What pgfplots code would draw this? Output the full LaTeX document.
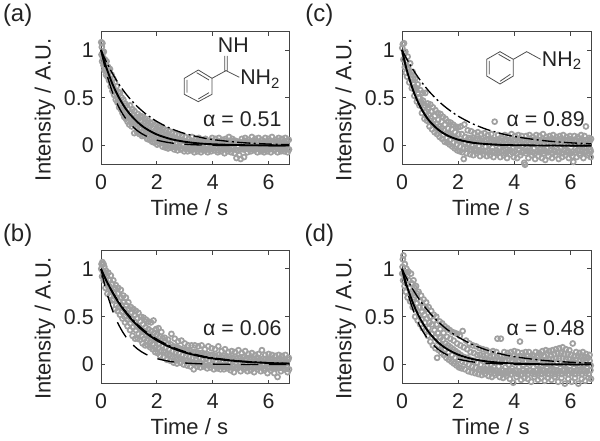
\documentclass[border=0pt]{standalone}
\usepackage{fontspec}
\setmainfont{Liberation Sans}
\usepackage{pgfplots}
\pgfplotsset{compat=1.18}
\definecolor{dots}{RGB}{160,160,160}
\definecolor{ink}{RGB}{35,35,35}
\pgfplotsset{panel/.style={
  scale only axis, width=141pt, height=99.75pt,
  xmin=0, xmax=6.73, ymin=-0.2, ymax=1.19,
  xtick={0,2,4,6}, ytick={0,0.5,1},
  tick align=inside, major tick length=3pt,
  xtick pos=both, ytick pos=both,
  axis line style={draw=ink!85,line width=0.7pt},
  tick style={draw=ink!85,line width=0.6pt},
  clip=false, clip marker paths=true, clip mode=individual,
  /pgf/number format/assume math mode=true,
  tick label style={font=\fontsize{16}{18}\selectfont,text=ink},
  xticklabel style={yshift=-4pt},
  yticklabel style={xshift=-2pt},
  xlabel={Time / s}, ylabel={Intensity / A.U.},
  every axis x label/.style={at={(axis description cs:0.47,-0.326)},anchor=center,font=\fontsize{16.5}{18}\selectfont,text=ink},
  every axis y label/.style={at={(axis description cs:-0.298,0.415)},anchor=center,rotate=90,font=\fontsize{16.5}{18}\selectfont,text=ink},
},
scat/.style={only marks,mark=o,mark size=1.85pt,mark options={draw=dots,line width=1.3pt,solid}},
mainline/.style={draw=black,solid,line width=1.4pt,smooth,mark=none},
upperline/.style={draw=black,line width=1pt,smooth,mark=none,dash pattern=on 10pt off 2.5pt on 1.5pt off 2.5pt},
lowerline/.style={draw=black,line width=1pt,smooth,mark=none,dash pattern=on 13pt off 8pt},
}
\begin{document}
\begin{tikzpicture}
\useasboundingbox (0,0) rectangle (450pt,330.75pt);
% ---------------- (a)
\begin{axis}[panel,at={(75.75pt,207.2pt)},anchor=south west]
\addplot[scat] coordinates {
(.01,1.08)(.02,.95)(.03,1.03)(.04,.88)(.05,1.07)(.07,.92)(.09,.84)(.1,.98)(.12,.79)(.14,.9)(.16,.85)(.18,.74)(.2,.88)(.23,.72)(.26,.82)(.29,.68)(.32,.8)(.35,.62)(.38,.74)(.41,.57)(.44,.7)(.47,.53)(.5,.66)(.53,.48)(.56,.62)(.59,.45)(.62,.56)(.65,.4)(.68,.55)(.71,.38)(.74,.5)(.77,.34)(.8,.48)(.83,.3)(.86,.44)(.89,.28)(.92,.42)(.95,.25)(.98,.38)(1.01,.22)(1.04,.42)(1.07,.3)(1.1,.2)(1.13,.38)(1.16,.27)(1.19,.13)
(1.2,.36)(1.23,.2)(1.26,.3)(1.29,.14)(1.32,.33)(1.35,.22)(1.38,.12)(1.41,.31)(1.44,.18)(1.47,.1)(1.5,.3)(1.53,.2)(1.56,.1)(1.59,.28)(1.62,.15)(1.65,.07)(1.68,.26)(1.71,.16)(1.74,.06)(1.77,.24)(1.8,.12)(1.83,.04)(1.86,.24)(1.89,.14)(1.92,.03)(1.95,.22)(1.98,.1)(2.01,.01)(2.04,.2)(2.07,.1)(2.1,.02)(2.13,.19)(2.16,.08)(2.2,-.01)(2.23,.18)(2.26,.07)(2.3,-.02)(2.33,.16)(2.37,.06)(2.4,-.03)(2.44,.15)(2.47,.05)(2.5,-.02)(2.54,.13)(2.58,.04)(2.62,-.04)(2.66,.12)(2.7,.02)(2.74,-.05)(2.78,.11)(2.82,.03)(2.86,-.04)(2.9,.1)(2.94,.01)(2.98,-.06)
(3.02,.09)(3.06,-.01)(3.1,-.06)(3.14,.07)(3.18,.01)(3.22,-.05)(3.26,.09)(3.3,.02)(3.34,-.07)(3.38,.06)(3.42,-.02)(3.46,-.06)(3.5,.08)(3.54,.01)(3.58,-.07)(3.62,.06)(3.66,-.02)(3.7,-.05)(3.74,.07)(3.78,.0)(3.82,-.07)(3.86,.05)(3.9,-.03)(3.94,-.06)(3.98,.08)(4.02,.01)(4.06,-.05)(4.1,.07)(4.14,-.01)(4.18,-.07)(4.22,.08)(4.26,.02)(4.3,-.06)(4.34,.06)(4.38,-.03)(4.42,-.08)(4.46,.07)(4.5,.0)(4.54,-.06)(4.58,.09)(4.62,.02)(4.66,-.07)(4.7,.07)(4.74,-.02)(4.78,-.08)(4.82,.05)(4.85,-.13)(4.9,.0)(4.95,-.1)(5,-.14)(5.04,.07)(5.08,-.03)(5.12,-.12)(5.16,.08)(5.2,.01)(5.24,-.07)(5.28,.06)(5.32,-.02)(5.36,-.06)(5.4,.09)(5.44,.02)(5.48,-.05)(5.52,.07)(5.56,-.03)(5.6,-.07)(5.64,.08)(5.68,.0)(5.72,-.06)(5.76,.06)(5.8,-.02)(5.84,-.07)(5.88,.08)(5.92,.01)(5.96,-.06)(6,.07)(6.04,-.03)(6.08,-.07)(6.12,.09)(6.16,.02)(6.2,-.05)(6.24,.06)(6.28,-.02)(6.32,-.07)(6.36,.08)(6.4,.0)(6.44,-.06)(6.48,.07)(6.52,-.03)(6.56,-.06)(6.6,.08)(6.64,.01)(6.68,-.07)(6.72,.06)(6.73,-.04)
(.06,.97)(.11,.86)(.17,.8)(.22,.78)(.27,.76)(.33,.7)(.38,.66)(.44,.61)(.5,.57)(.55,.54)(.6,.5)(.66,.47)(.72,.44)(.78,.4)(.84,.37)(.9,.35)(.96,.31)(1.02,.3)(1.08,.25)(1.14,.32)(1.2,.25)
(1.25,.26)(1.3,.19)(1.35,.28)(1.4,.17)(1.45,.25)(1.5,.15)(1.55,.24)(1.6,.13)(1.65,.22)(1.7,.11)(1.75,.2)(1.8,.08)(1.85,.18)(1.9,.08)(1.95,.16)(2,.05)(2.05,.15)(2.1,.05)(2.15,.13)(2.2,.03)(2.25,.12)(2.3,.03)(2.35,.11)(2.4,.01)(2.45,.1)(2.5,.01)(2.55,.08)(2.6,-.01)(2.65,.08)(2.7,-.02)(2.75,.07)(2.8,-.01)(2.85,.06)(2.9,-.03)(2.95,.05)(3,-.03)
(3.05,.04)(3.1,-.03)(3.15,.04)(3.2,-.03)(3.25,.05)(3.3,-.04)(3.35,.03)(3.4,-.04)(3.45,.04)(3.5,-.03)(3.55,.05)(3.6,-.04)(3.65,.03)(3.7,-.03)(3.75,.04)(3.8,-.04)(3.85,.03)(3.9,-.04)(3.95,.05)(4,-.03)(4.05,.04)(4.1,-.03)(4.15,.04)(4.2,-.05)(4.25,.04)(4.3,-.03)(4.35,.03)(4.4,-.04)(4.45,.05)(4.5,-.03)(4.55,.04)(4.6,-.04)(4.65,.04)(4.7,-.03)(4.75,.05)(4.8,-.04)(4.85,.03)(4.9,-.05)(4.95,.04)(5,-.04)(5.05,.03)(5.1,-.04)(5.15,.05)(5.2,-.03)(5.25,.04)(5.3,-.04)(5.35,.03)(5.4,-.03)(5.45,.05)(5.5,-.04)(5.55,.04)(5.6,-.03)(5.65,.04)(5.7,-.04)(5.75,.03)(5.8,-.05)(5.85,.04)(5.9,-.03)(5.95,.04)(6,-.04)(6.05,.05)(6.1,-.03)(6.15,.03)(6.2,-.04)(6.25,.04)(6.3,-.03)(6.35,.05)(6.4,-.04)(6.45,.03)(6.5,-.04)(6.55,.04)(6.6,-.03)(6.65,.05)(6.7,-.04)};
\addplot[lowerline] coordinates {(0,1)(.1,.867)(.2,.751)(.4,.565)(.6,.424)(.8,.319)(1,.24)(1.3,.156)(1.6,.102)(2,.057)(2.5,.028)(3,.014)(3.5,.007)(4,.003)(5,.001)(6,0)(6.73,0)};
\addplot[upperline] coordinates {(0,1)(.1,.933)(.2,.871)(.4,.759)(.6,.661)(.8,.576)(1,.502)(1.3,.408)(1.6,.332)(2,.252)(2.5,.178)(3,.126)(3.5,.09)(4,.063)(5,.032)(6,.016)(6.73,.01)};
\addplot[mainline] coordinates {(0,1)(.1,.898)(.2,.807)(.4,.65)(.6,.525)(.8,.423)(1,.341)(1.3,.247)(1.6,.179)(2,.116)(2.5,.068)(3,.04)(3.5,.023)(4,.014)(5,.005)(6,.002)(6.73,.001)};
\end{axis}
% ---------------- (c)
\begin{axis}[panel,at={(301.5pt,207.2pt)},anchor=south west,width=141.75pt]
\addplot[scat] coordinates {
(.01,1.02)(.03,1.06)(.05,.9)(.07,1.07)(.09,.96)(.1,.82)(.12,.98)(.14,.76)(.16,.88)(.18,.72)(.2,.93)(.23,.8)(.26,.66)(.29,.86)(.32,.7)(.35,.6)(.38,.77)(.41,.64)(.44,.52)(.47,.7)(.5,.58)(.53,.46)(.56,.64)(.59,.5)(.62,.42)(.65,.58)(.68,.46)(.71,.34)(.74,.55)(.77,.4)(.8,.28)(.83,.55)(.86,.36)(.89,.26)(.92,.44)(.95,.32)(.98,.2)(1.01,.43)(1.04,.28)(1.07,.17)(1.1,.4)(1.13,.26)(1.16,.14)(1.19,.37)(1.22,.23)(1.25,.12)(1.28,.34)(1.31,.2)(1.34,.09)(1.37,.33)(1.4,.18)(1.43,.07)(1.46,.3)(1.49,.16)(1.52,.04)(1.55,.28)(1.58,.13)(1.61,.03)(1.64,.25)(1.67,.12)(1.7,.01)(1.73,.24)(1.76,.1)(1.79,-.01)(1.82,.22)(1.85,.09)(1.88,-.03)(1.91,.2)(1.94,.07)(1.97,-.05)(2,.19)(2.03,.05)(2.06,-.06)(2.09,.2)(2.12,.05)(2.15,-.07)(2.2,-.14)(2.22,.22)(2.26,.03)(2.3,-.08)(2.34,.16)(2.38,.02)(2.42,-.09)(2.46,.15)(2.5,.01)(2.54,-.1)(2.58,.13)(2.62,.02)(2.66,-.08)(2.7,.14)(2.74,.0)(2.78,-.11)(2.82,.12)(2.86,.02)(2.9,-.09)(2.94,.13)(2.98,-.01)(3.02,-.11)(3.06,.11)(3.1,.01)(3.14,-.1)(3.18,.12)(3.22,-.02)(3.26,-.12)(3.3,.25)(3.34,.03)(3.38,-.08)(3.42,.11)(3.46,-.03)(3.5,-.12)(3.54,.09)(3.58,.01)(3.62,-.1)(3.66,.11)(3.7,-.04)(3.74,-.13)(3.78,.1)(3.82,.0)(3.86,-.09)(3.9,.12)(3.94,-.03)(3.98,-.12)(4.02,.1)(4.06,.01)(4.1,-.13)(4.14,.11)(4.18,-.04)(4.22,-.1)(4.26,.1)(4.3,.0)(4.35,-.18)(4.38,-.2)(4.42,.1)(4.46,-.05)(4.5,-.13)(4.54,.11)(4.58,.02)(4.62,-.1)(4.66,.09)(4.7,-.03)(4.74,-.14)(4.78,.11)(4.82,.0)(4.86,-.11)(4.9,.1)(4.94,-.04)(4.98,-.13)(5.02,.12)(5.06,.01)(5.1,-.15)(5.14,.09)(5.18,-.03)(5.22,-.11)(5.26,.1)(5.3,.0)(5.34,-.13)(5.38,.11)(5.42,-.05)(5.46,-.1)(5.5,.09)(5.54,.01)(5.58,-.14)(5.62,.1)(5.66,-.03)(5.7,-.12)(5.74,.11)(5.78,.0)(5.82,-.1)(5.86,.09)(5.9,-.05)(5.94,-.13)(5.98,.1)(6.02,.02)(6.06,-.11)(6.1,-.17)(6.14,.1)(6.18,-.03)(6.22,-.12)(6.26,.09)(6.3,.0)(6.34,-.1)(6.38,.11)(6.42,-.04)(6.46,-.13)(6.5,.1)(6.55,.2)(6.58,.01)(6.62,-.1)(6.66,.08)(6.7,-.04)(6.72,-.12)(6.73,.07)
(.15,.84)(.21,.82)(.27,.76)(.33,.74)(.39,.7)(.45,.61)(.51,.6)(.57,.55)(.63,.5)(.69,.44)(.75,.47)(.81,.42)(.87,.31)(.93,.38)(.99,.26)(1.05,.36)(1.11,.22)(1.17,.31)(1.23,.18)(1.29,.27)(1.35,.15)(1.41,.25)(1.47,.11)(1.53,.22)(1.59,.08)(1.65,.18)(1.71,.06)(1.77,.17)(1.83,.03)(1.89,.14)(1.95,.01)(2.01,.12)(2.07,-.01)(2.13,.12)(2.19,-.03)(2.25,.09)(2.31,-.03)(2.37,.08)
(2.41,-.04)(2.45,.07)(2.49,-.05)(2.53,.08)(2.57,-.04)(2.61,.06)(2.65,-.05)(2.69,.07)(2.73,-.06)(2.77,.06)(2.81,-.05)(2.85,.07)(2.89,-.06)(2.93,.05)(2.97,-.06)(3.01,.06)(3.05,-.05)(3.09,.07)(3.13,-.07)(3.17,.05)(3.21,-.06)(3.25,.06)(3.29,-.07)(3.33,.05)(3.37,-.05)(3.41,.06)(3.45,-.07)(3.49,.05)(3.53,-.06)(3.57,.07)(3.61,-.05)(3.65,.05)(3.69,-.08)(3.73,.06)(3.77,-.06)(3.81,.05)(3.85,-.05)(3.89,.07)(3.93,-.07)(3.97,.05)(4.01,-.06)(4.05,.06)(4.09,-.08)(4.13,.05)(4.17,-.05)(4.21,.07)(4.25,-.07)(4.29,.05)(4.33,-.06)(4.37,.06)(4.41,-.08)(4.45,.05)(4.49,-.06)(4.53,.07)(4.57,-.05)(4.61,.05)(4.65,-.07)(4.69,.06)(4.73,-.08)(4.77,.05)(4.81,-.06)(4.85,.06)(4.89,-.07)(4.93,.05)(4.97,-.06)(5.01,.07)(5.05,-.08)(5.09,.05)(5.13,-.06)(5.17,.06)(5.21,-.07)(5.25,.05)(5.29,-.05)(5.33,.07)(5.37,-.08)(5.41,.05)(5.45,-.06)(5.49,.06)(5.53,-.07)(5.57,.05)(5.61,-.06)(5.65,.07)(5.69,-.08)(5.73,.05)(5.77,-.05)(5.81,.06)(5.85,-.07)(5.89,.05)(5.93,-.06)(5.97,.07)(6.01,-.08)(6.05,.05)(6.09,-.06)(6.13,.06)(6.17,-.07)(6.21,.05)(6.25,-.05)(6.29,.07)(6.33,-.08)(6.37,.05)(6.41,-.06)(6.45,.06)(6.49,-.07)(6.53,.05)(6.57,-.06)(6.61,.06)(6.65,-.08)(6.69,.05)(6.72,-.06)};
\addplot[lowerline] coordinates {(0,1)(.1,.87)(.2,.757)(.4,.574)(.6,.435)(.8,.329)(1,.249)(1.3,.164)(1.6,.108)(2,.062)(2.5,.031)(3,.016)(3.5,.008)(4,.004)(5,.001)(6,0)(6.73,0)};
\addplot[upperline] coordinates {(0,1)(.1,.943)(.2,.889)(.4,.79)(.6,.703)(.8,.625)(1,.555)(1.3,.465)(1.6,.39)(2,.308)(2.5,.23)(3,.171)(3.5,.128)(4,.095)(5,.053)(6,.029)(6.73,.019)};
\addplot[mainline] coordinates {(0,1)(.1,.87)(.2,.757)(.4,.574)(.6,.435)(.8,.329)(1,.249)(1.3,.164)(1.6,.108)(2,.062)(2.5,.031)(3,.016)(3.5,.008)(4,.004)(5,.001)(6,0)(6.73,0)};
\end{axis}
% ---------------- (b)
\begin{axis}[panel,at={(75.75pt,43pt)},anchor=south west]
\addplot[scat] coordinates {
(.01,1.0)(.02,1.05)(.04,.92)(.05,1.07)(.07,.97)(.09,1.05)(.1,.88)(.12,1.02)(.14,.9)(.16,.8)(.18,.98)(.2,.86)(.23,.74)(.26,.96)(.29,.82)(.32,.72)(.35,.93)(.38,.78)(.41,.67)(.44,.88)(.47,.74)(.5,.58)(.53,.83)(.56,.7)(.59,.56)(.62,.8)(.65,.66)(.68,.52)(.71,.78)(.74,.62)(.77,.48)(.8,.72)(.83,.58)(.86,.44)(.89,.7)(.92,.54)(.95,.4)(.98,.65)(1.01,.5)(1.04,.36)(1.07,.6)(1.1,.47)(1.13,.3)(1.16,.58)(1.19,.45)(1.22,.27)(1.25,.56)(1.28,.4)(1.31,.27)(1.34,.54)(1.37,.38)(1.4,.26)(1.43,.5)(1.46,.36)(1.49,.22)(1.52,.49)(1.55,.34)(1.58,.2)(1.61,.47)(1.64,.3)(1.67,.2)(1.7,.45)(1.73,.3)(1.76,.18)(1.79,.44)(1.82,.27)(1.85,.16)(1.88,.46)(1.91,.26)(1.94,.13)(1.97,.37)(2,.25)(2.03,.12)(2.06,.38)(2.09,.22)(2.12,.09)(2.16,.34)(2.2,.2)(2.24,.08)(2.28,.28)(2.32,.18)(2.36,.05)(2.4,.26)(2.44,.16)(2.48,.04)(2.52,.32)(2.56,.14)(2.6,.02)(2.64,.27)(2.68,.13)(2.72,.01)(2.76,.24)(2.8,.12)(2.84,.02)(2.88,.25)(2.92,.1)(2.96,.0)(3,.22)(3.04,.09)(3.08,-.01)(3.12,.2)(3.16,.08)(3.2,-.02)(3.24,.2)(3.28,.07)(3.32,-.05)(3.36,.2)(3.4,.06)(3.44,-.02)(3.48,.19)(3.52,.07)(3.56,-.03)(3.6,.2)(3.64,.05)(3.68,-.02)(3.72,.16)(3.76,.06)(3.8,-.04)(3.84,.19)(3.88,.04)(3.92,-.03)(3.96,.17)(4,.05)(4.04,-.05)(4.08,.16)(4.12,.03)(4.16,-.04)(4.2,.19)(4.24,.05)(4.28,-.05)(4.32,.14)(4.36,.03)(4.4,-.05)(4.44,.16)(4.48,.04)(4.52,-.04)(4.56,.13)(4.6,.02)(4.64,-.06)(4.68,.14)(4.72,.03)(4.76,-.08)(4.8,.13)(4.84,.01)(4.88,-.04)(4.92,.15)(4.96,.02)(5,-.07)(5.04,.12)(5.08,.03)(5.12,-.05)(5.16,.14)(5.2,.01)(5.24,-.07)(5.28,.11)(5.32,.02)(5.36,-.06)(5.4,.12)(5.44,.03)(5.48,-.08)(5.52,.1)(5.56,.01)(5.6,-.05)(5.64,.11)(5.68,.02)(5.72,-.07)(5.76,.15)(5.8,.0)(5.84,-.06)(5.88,.1)(5.92,.02)(5.96,-.09)(6,.11)(6.04,.01)(6.08,-.06)(6.12,.1)(6.16,.03)(6.2,-.09)(6.24,.09)(6.28,.0)(6.32,-.13)(6.36,.1)(6.4,.02)(6.44,-.07)(6.48,.09)(6.52,.0)(6.56,-.05)(6.6,.1)(6.64,.03)(6.68,-.08)(6.72,.07)(6.73,-.05)
(.15,.95)(.21,.92)(.25,.82)(.31,.88)(.36,.76)(.4,.84)(.46,.68)(.5,.8)(.55,.62)(.6,.74)(.64,.6)(.7,.7)(.75,.55)(.8,.65)(.85,.5)(.9,.62)(.95,.47)(1,.58)(1.05,.43)(1.1,.54)(1.15,.39)(1.2,.52)(1.25,.36)(1.3,.48)(1.35,.32)(1.4,.45)(1.45,.3)(1.5,.42)(1.55,.27)(1.6,.39)(1.65,.25)(1.7,.37)(1.75,.23)(1.8,.35)(1.85,.21)(1.9,.33)(1.95,.18)(2,.31)(2.05,.17)(2.1,.29)(2.15,.14)(2.2,.27)(2.25,.13)(2.3,.25)(2.35,.11)(2.4,.21)(2.45,.1)(2.5,.21)(2.55,.08)(2.6,.19)(2.65,.07)(2.7,.18)(2.75,.06)(2.8,.17)(2.85,.06)(2.9,.16)(2.95,.04)(3,.15)(3.05,.04)(3.1,.14)(3.15,.03)(3.2,.14)(3.25,.02)(3.3,.13)(3.35,.02)(3.4,.13)(3.45,.01)(3.5,.12)(3.55,.02)(3.6,.12)(3.65,.0)(3.7,.11)(3.75,.01)(3.8,.11)(3.85,-.01)(3.9,.1)(3.95,.0)(4,.1)(4.05,-.01)(4.1,.09)(4.15,-.01)(4.2,.1)(4.25,-.02)(4.3,.08)(4.35,-.01)(4.4,.09)(4.45,-.02)(4.5,.08)(4.55,-.02)(4.6,.08)(4.65,-.03)(4.7,.07)(4.75,-.02)(4.8,.08)(4.85,-.03)(4.9,.07)(4.95,-.03)(5,.07)(5.05,-.02)(5.1,.08)(5.15,-.03)(5.2,.06)(5.25,-.03)(5.3,.07)(5.35,-.02)(5.4,.06)(5.45,-.04)(5.5,.06)(5.55,-.03)(5.6,.07)(5.65,-.03)(5.7,.05)(5.75,-.03)(5.8,.06)(5.85,-.04)(5.9,.06)(5.95,-.03)(6,.05)(6.05,-.03)(6.1,.06)(6.15,-.04)(6.2,.05)(6.25,-.03)(6.3,.05)(6.35,-.04)(6.4,.06)(6.45,-.03)(6.5,.05)(6.55,-.04)(6.6,.05)(6.65,-.03)(6.7,.05)};
\addplot[lowerline] coordinates {(0,1)(.1,.87)(.2,.757)(.4,.574)(.6,.435)(.8,.329)(1,.249)(1.3,.164)(1.6,.108)(2,.062)(2.5,.031)(3,.016)(3.5,.008)(4,.004)(5,.001)(6,0)(6.73,0)};
\addplot[upperline] coordinates {(0,1)(.1,.936)(.2,.875)(.4,.766)(.6,.67)(.8,.587)(1,.513)(1.3,.42)(1.6,.344)(2,.264)(2.5,.189)(3,.135)(3.5,.097)(4,.069)(5,.036)(6,.018)(6.73,.011)};
\addplot[mainline] coordinates {(0,1)(.1,.933)(.2,.871)(.4,.759)(.6,.661)(.8,.576)(1,.502)(1.3,.408)(1.6,.332)(2,.252)(2.5,.178)(3,.126)(3.5,.09)(4,.063)(5,.032)(6,.016)(6.73,.01)};
\end{axis}
% ---------------- (d)
\begin{axis}[panel,at={(301.5pt,43pt)},anchor=south west,width=141.75pt]
\addplot[scat] coordinates {
(.01,.95)(.02,1.02)(.03,1.1)(.04,.88)(.05,1.14)(.07,.95)(.09,.82)(.1,1.05)(.12,.9)(.14,.76)(.16,1.0)(.18,.84)(.2,.7)(.23,.97)(.26,.8)(.29,.66)(.32,.95)(.35,.76)(.38,.6)(.41,.88)(.44,.7)(.47,.5)(.5,.82)(.53,.64)(.56,.46)(.59,.76)(.62,.6)(.65,.42)(.68,.72)(.71,.55)(.74,.38)(.77,.68)(.8,.52)(.83,.36)(.86,.65)(.89,.48)(.92,.3)(.95,.6)(.98,.44)(1.01,.24)(1.04,.56)(1.07,.42)(1.1,.2)(1.13,.52)(1.16,.36)(1.19,.17)(1.22,.5)(1.25,.07)(1.28,.33)(1.31,.15)(1.34,.45)(1.37,.28)(1.4,.12)(1.43,.43)(1.46,.26)(1.49,.1)(1.52,.4)(1.55,.22)(1.58,.07)(1.61,.38)(1.64,.2)(1.67,.05)(1.7,.36)(1.73,.18)(1.76,.03)(1.79,.34)(1.82,.16)(1.85,.01)(1.88,.33)(1.91,.14)(1.94,-.01)(1.97,.32)(2,.12)(2.03,-.03)(2.06,.3)(2.09,.1)(2.12,-.04)(2.16,.35)(2.2,.08)(2.24,-.05)(2.28,.25)(2.32,.07)(2.36,-.07)(2.4,.22)(2.44,.05)(2.48,-.08)(2.52,.2)(2.56,.04)(2.6,-.09)(2.64,.19)(2.68,.02)(2.72,-.1)(2.76,.17)(2.8,.0)(2.84,-.11)(2.88,.16)(2.92,.03)(2.96,-.1)(3,.15)(3.04,-.02)(3.08,-.12)(3.12,.13)(3.16,.0)(3.2,-.13)(3.24,.14)(3.28,-.03)(3.32,-.11)(3.36,.13)(3.4,.27)(3.44,-.02)(3.48,-.13)(3.52,.27)(3.56,.03)(3.6,-.14)(3.64,.13)(3.68,-.03)(3.72,-.12)(3.76,.12)(3.8,.0)(3.84,-.15)(3.88,.13)(3.92,-.04)(3.96,-.19)(4,.14)(4.04,.02)(4.08,-.13)(4.12,.13)(4.16,-.03)(4.2,.24)(4.24,-.16)(4.28,.12)(4.32,.0)(4.36,-.14)(4.4,.13)(4.44,-.04)(4.48,-.15)(4.52,.13)(4.56,.02)(4.6,-.18)(4.64,.1)(4.68,-.03)(4.72,-.13)(4.76,.13)(4.8,.0)(4.84,-.16)(4.88,.12)(4.92,-.05)(4.96,-.14)(5,.14)(5.04,.01)(5.08,-.17)(5.12,.15)(5.16,-.04)(5.2,-.14)(5.24,.14)(5.28,.0)(5.32,-.16)(5.36,.15)(5.4,-.05)(5.44,-.13)(5.48,.16)(5.52,.02)(5.56,-.18)(5.6,.17)(5.64,-.04)(5.68,-.14)(5.72,.18)(5.76,.0)(5.8,-.2)(5.84,.16)(5.88,-.05)(5.92,-.15)(5.96,.15)(6,.02)(6.04,-.18)(6.08,.22)(6.12,-.04)(6.16,-.14)(6.2,.13)(6.24,.01)(6.28,-.2)(6.32,.12)(6.36,-.05)(6.4,-.15)(6.44,.13)(6.48,.0)(6.52,-.17)(6.56,.11)(6.6,-.04)(6.64,-.14)(6.68,.1)(6.72,-.01)(6.73,-.15)
(.13,.96)(.19,.92)(.24,.88)(.3,.74)(.34,.85)(.4,.68)(.45,.8)(.5,.58)(.54,.74)(.6,.52)(.66,.66)(.7,.47)(.76,.6)(.82,.44)(.88,.58)(.94,.38)(1,.5)(1.06,.32)(1.12,.46)(1.18,.28)(1.24,.42)(1.3,.24)(1.36,.37)(1.42,.2)(1.48,.33)(1.54,.16)(1.6,.29)(1.66,.13)(1.72,.27)(1.78,.1)(1.84,.25)(1.9,.07)(1.96,.22)(2.02,.05)(2.08,.2)(2.14,.03)(2.2,.18)(2.26,.02)(2.32,.16)(2.38,.0)(2.44,.13)(2.5,-.02)(2.56,.12)(2.62,-.03)(2.68,.1)(2.74,-.05)
(2.78,.1)(2.81,-.06)(2.84,.06)(2.87,-.05)(2.9,.09)(2.93,-.07)(2.96,.05)(2.99,-.05)(3.02,.1)(3.05,-.07)(3.08,.05)(3.11,-.05)(3.14,.08)(3.17,-.08)(3.2,.04)(3.23,-.06)(3.26,.09)(3.29,-.09)(3.32,.05)(3.35,-.06)(3.38,.08)(3.41,-.09)(3.44,.04)(3.47,-.07)(3.5,.09)(3.53,-.09)(3.56,.05)(3.59,-.06)(3.62,.08)(3.65,-.1)(3.68,.04)(3.71,-.07)(3.74,.09)(3.77,-.09)(3.8,.05)(3.83,-.06)(3.86,.08)(3.89,-.1)(3.92,.04)(3.95,-.07)(3.98,.09)(4.01,-.09)(4.04,.05)(4.07,-.06)(4.1,.08)(4.13,-.1)(4.16,.04)(4.19,-.07)(4.22,.09)(4.25,-.1)(4.28,.05)(4.31,-.06)(4.34,.08)(4.37,-.09)(4.4,.04)(4.43,-.07)(4.46,.09)(4.49,-.1)(4.52,.05)(4.55,-.06)(4.58,.08)(4.61,-.09)(4.64,.04)(4.67,-.07)(4.7,.09)(4.73,-.1)(4.76,.05)(4.79,-.06)(4.82,.08)(4.85,-.09)(4.88,.04)(4.91,-.07)(4.94,.1)(4.97,-.1)(5,.05)(5.03,-.06)(5.06,.09)(5.09,-.09)(5.12,.05)(5.15,-.07)(5.18,.11)(5.21,-.1)(5.24,.05)(5.27,-.06)(5.3,.1)(5.33,-.09)(5.36,.05)(5.39,-.07)(5.42,.11)(5.45,-.1)(5.48,.06)(5.51,-.06)(5.54,.12)(5.57,-.09)(5.6,.06)(5.63,-.07)(5.66,.12)(5.69,-.1)(5.72,.06)(5.75,-.06)(5.78,.11)(5.81,-.09)(5.84,.05)(5.87,-.07)(5.9,.11)(5.93,-.1)(5.96,.05)(5.99,-.06)(6.02,.1)(6.05,-.09)(6.08,.04)(6.11,-.07)(6.14,.09)(6.17,-.1)(6.2,.05)(6.23,-.06)(6.26,.09)(6.29,-.09)(6.32,.04)(6.35,-.07)(6.38,.08)(6.41,-.1)(6.44,.05)(6.47,-.06)(6.5,.08)(6.53,-.09)(6.56,.04)(6.59,-.07)(6.62,.07)(6.65,-.1)(6.68,.04)(6.71,-.06)};
\addplot[lowerline] coordinates {(0,1)(.1,.867)(.2,.751)(.4,.565)(.6,.424)(.8,.319)(1,.24)(1.3,.156)(1.6,.102)(2,.057)(2.5,.028)(3,.014)(3.5,.007)(4,.003)(5,.001)(6,0)(6.73,0)};
\addplot[upperline] coordinates {(0,1)(.1,.939)(.2,.882)(.4,.779)(.6,.687)(.8,.607)(1,.535)(1.3,.444)(1.6,.368)(2,.287)(2.5,.21)(3,.153)(3.5,.112)(4,.082)(5,.044)(6,.024)(6.73,.015)};
\addplot[mainline] coordinates {(0,1)(.1,.893)(.2,.797)(.4,.635)(.6,.506)(.8,.403)(1,.321)(1.3,.228)(1.6,.162)(2,.103)(2.5,.058)(3,.033)(3.5,.019)(4,.011)(5,.003)(6,.001)(6.73,0)};
\end{axis}
% ---------------- annotations, in coordinates of the 3x crops
\begin{scope}[shift={(0pt,330.75pt)},x=.25pt,y=-.25pt,
  every node/.style={text=ink,inner sep=0pt,font=\fontsize{16}{18}\selectfont}]
\node[font=\fontsize{18}{20}\selectfont] at (53,45) {(a)};
\node[font=\fontsize{18}{20}\selectfont] at (958,45) {(c)};
\node[font=\fontsize{18}{20}\selectfont] at (53,705) {(b)};
\node[font=\fontsize{18}{20}\selectfont] at (958,705) {(d)};
\node[anchor=east] at (845,358) {α = 0.51};
\node[anchor=east] at (1755,358) {α = 0.89};
\node[anchor=east] at (845,985) {α = 0.06};
\node[anchor=east] at (1755,985) {α = 0.48};
% benzamidine
\draw[ink!80,line width=.6pt] (553,235)--(595,210)--(636,235)--(636,283)--(595,305)--(553,283)--cycle;
\draw[ink!80,line width=.6pt] (561,240)--(561,278) (590,218)--(627,240) (627,278)--(595,297);
\draw[ink!80,line width=.6pt] (636,235)--(678,212)--(718,232) (674,212)--(674,168) (682,212)--(682,168);
\node at (700,135) {NH};
\node[anchor=west] at (720,238) {NH\textsubscript{2}};
% benzylamine
\draw[ink!80,line width=.6pt] (1460,178)--(1500,155)--(1540,178)--(1540,228)--(1500,252)--(1460,228)--cycle;
\draw[ink!80,line width=.6pt] (1468,183)--(1468,223) (1496,163)--(1531,183) (1531,223)--(1500,244);
\draw[ink!80,line width=.6pt] (1540,178)--(1580,155)--(1622,178);
\node[anchor=west] at (1625,182) {NH\textsubscript{2}};
\end{scope}
\end{tikzpicture}
\end{document}
